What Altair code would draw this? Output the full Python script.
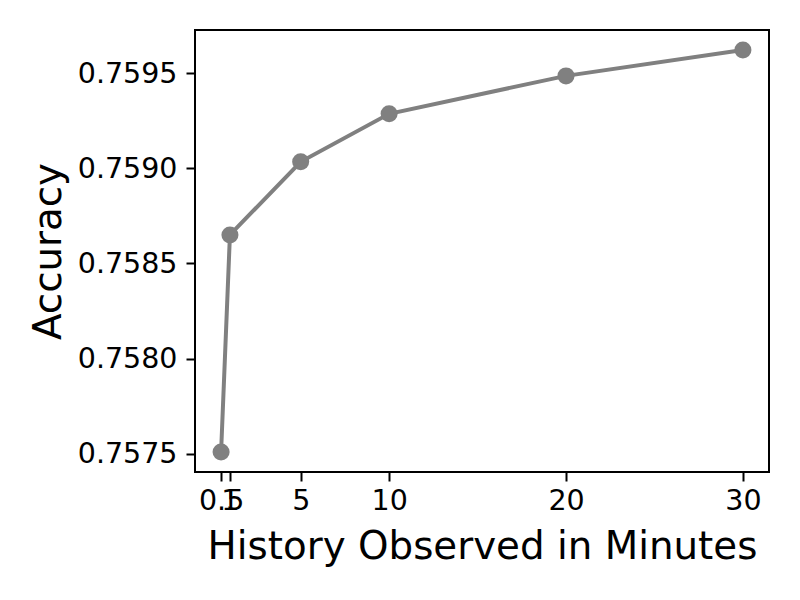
import altair as alt
import pandas as pd

minutes = [0.5, 1, 5, 10, 20, 30]
accuracy = [0.75751, 0.75865, 0.759034, 0.759286, 0.759485, 0.759621]
x_ticks = [0.5, 1, 5, 10, 20, 30]
y_ticks = [0.7575, 0.7580, 0.7585, 0.7590, 0.7595]

df = pd.DataFrame({"minutes": minutes, "accuracy": accuracy})

FONT = "DejaVu Sans"
TICK_FS = 28.5
TITLE_FS = 38.8

x = alt.X(
    "minutes:Q",
    scale=alt.Scale(domain=[-0.975, 31.475], nice=False, zero=False),
    axis=alt.Axis(
        values=x_ticks, format="~g", title="History Observed in Minutes",
        grid=False, domain=False, ticks=True, tickSize=9, tickWidth=2, tickColor="black",
        labelFont=FONT, labelFontSize=TICK_FS, labelColor="black", labelPadding=5,
        labelOverlap=False, labelFlush=False,
        titleFont=FONT, titleFontSize=TITLE_FS, titleFontWeight="normal", titleColor="black",
        titleY=86, titleBaseline="alphabetic",
    ),
)
y = alt.Y(
    "accuracy:Q",
    scale=alt.Scale(domain=[0.757405, 0.759726], nice=False, zero=False),
    axis=alt.Axis(
        values=y_ticks, format=".4f", title="Accuracy",
        grid=False, domain=False, ticks=True, tickSize=9, tickWidth=2, tickColor="black",
        labelFont=FONT, labelFontSize=TICK_FS, labelColor="black", labelPadding=9,
        labelOverlap=False, labelFlush=False,
        titleFont=FONT, titleFontSize=TITLE_FS, titleFontWeight="normal", titleColor="black",
        titleX=-147, titleY=221, titleBaseline="middle", titleAngle=-90,
    ),
)

line = alt.Chart(df).mark_line(color="#808080", strokeWidth=4).encode(x=x, y=y)
pts = alt.Chart(df).mark_point(filled=True, color="#808080", size=290, opacity=1).encode(x=x, y=y)

chart = (line + pts).properties(
    width=574, height=442,
    autosize=alt.AutoSizeParams(type="none"),
    padding={"left": 187, "top": 22, "right": 23, "bottom": 120},
    background="white",
).configure_view(stroke="black", strokeWidth=2)

chart.save("out.html", embed_options={"renderer": "svg", "actions": False})
